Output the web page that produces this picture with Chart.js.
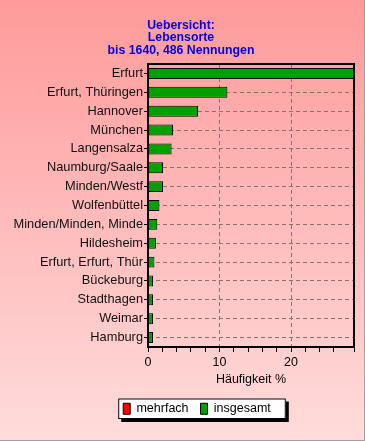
<!DOCTYPE html>
<html>
<head>
<meta charset="utf-8">
<script src="https://cdn.jsdelivr.net/npm/chart.js@4/dist/chart.umd.min.js"></script>
<style>
  html, body { margin: 0; padding: 0; background: #fff; }
  #wrap { width: 365px; height: 441px; }
</style>
</head>
<body>
<div id="wrap"><canvas id="orte" width="365" height="441"></canvas></div>
<script>
// Lebensorte bis 1640, Anteile in % von 486 Nennungen
var orte = ['Erfurt', 'Erfurt, Thüringen', 'Hannover', 'München', 'Langensalza',
    'Naumburg/Saale', 'Minden/Westf', 'Wolfenbüttel', 'Minden/Minden, Minde',
    'Hildesheim', 'Erfurt, Erfurt, Thür', 'Bückeburg', 'Stadthagen', 'Weimar', 'Hamburg'];
var mehrfach = [0, 0, 0, 0, 0, 0, 0, 0, 0, 0, 0, 0, 0, 0, 0];
var insgesamt = [28.8, 11.1, 7.0, 3.5, 3.3, 2.1, 2.1, 1.6, 1.3, 1.1, 0.9, 0.7, 0.7, 0.7, 0.7];
var titelZeilen = ['Uebersicht:', 'Lebensorte', 'bis 1640, 486 Nennungen'];
var xTitel = 'Häufigkeit %';

var FONT = '"Liberation Sans", Arial, sans-serif';
var gridGrau = '#8a7070';

var rahmenPlugin = {
    id: 'rahmen',
    afterLayout: function (chart) {
        // Legende etwas nach rechts, wie im Original
        chart.legend.left += 16;
        chart.legend.right += 16;
    },
    beforeDraw: function (chart) {
        var ctx = chart.ctx;
        var w = chart.width, h = chart.height;
        ctx.save();
        var grad = ctx.createLinearGradient(0, 0, 0, h);
        grad.addColorStop(0, '#ff9a9a');
        grad.addColorStop(1, '#ffdcdc');
        ctx.fillStyle = grad;
        ctx.fillRect(0, 0, w, h);
        ctx.fillStyle = '#a0a0a0';
        ctx.fillRect(w - 1, 0, 1, h);
        ctx.fillRect(0, h - 1, w, 1);

        // weisser Kasten mit Schatten hinter der Legende
        var boxes = chart.legend.legendHitBoxes;
        if (boxes && boxes.length) {
            var first = boxes[0], last = boxes[boxes.length - 1];
            var x1 = first.left - 5;
            var x2 = last.left + last.width + 15;
            var y1 = first.top - 4;
            var y2 = first.top + first.height + 4;
            ctx.fillStyle = '#000';
            ctx.fillRect(x1 + 3, y1 + 3, x2 - x1, y2 - y1);
            ctx.fillStyle = '#fff';
            ctx.fillRect(x1, y1, x2 - x1, y2 - y1);
            ctx.strokeStyle = '#000';
            ctx.lineWidth = 1;
            ctx.strokeRect(x1 + 0.5, y1 + 0.5, x2 - x1 - 1, y2 - y1 - 1);
        }
        ctx.restore();
    },
    afterDatasetsDraw: function (chart) {
        var a = chart.chartArea;
        var ctx = chart.ctx;
        ctx.save();
        ctx.strokeStyle = '#000';
        ctx.lineWidth = 2;
        ctx.strokeRect(a.left, a.top, a.right - a.left, a.bottom - a.top);
        ctx.restore();
    }
};

var ctx = document.getElementById('orte').getContext('2d');
var chart = new Chart(ctx, {
    type: 'bar',
    data: {
        labels: orte,
        datasets: [{
            label: 'mehrfach',
            data: mehrfach,
            backgroundColor: '#ff0000',
            borderColor: '#000',
            borderWidth: 1,
            grouped: false
        }, {
            label: 'insgesamt',
            data: insgesamt,
            backgroundColor: '#00a000',
            borderColor: '#000',
            borderWidth: 1,
            borderSkipped: false,
            grouped: false
        }]
    },
    options: {
        responsive: false,
        animation: false,
        indexAxis: 'y',
        categoryPercentage: 1,
        barPercentage: 0.58,
        layout: {
            padding: { left: 8, right: 11, top: 0, bottom: 16 }
        },
        scales: {
            x: {
                min: 0,
                max: 28.8,
                ticks: {
                    stepSize: 2,
                    padding: 3,
                    color: '#000',
                    font: { family: FONT, size: 12.5 },
                    autoSkip: false,
                    maxRotation: 0,
                    callback: function (v) { return v % 10 === 0 ? v : ''; }
                },
                grid: {
                    color: function (c) {
                        return c.tick && c.tick.value > 0 && c.tick.value % 10 === 0 ? gridGrau : 'rgba(0,0,0,0)';
                    },
                    tickColor: '#000',
                    tickLength: 5,
                    tickWidth: 1,
                    tickBorderDash: []
                },
                border: { color: '#000', width: 2, dash: [4, 3] },
                title: {
                    display: true,
                    text: xTitel,
                    color: '#000',
                    font: { family: FONT, size: 12.5, lineHeight: 1 },
                    padding: { top: 0, bottom: 5 }
                }
            },
            y: {
                afterFit: function (scale) { scale.width = 140; },
                ticks: {
                    padding: 1,
                    color: '#111',
                    font: { family: FONT, size: 12.8 },
                    autoSkip: false
                },
                grid: {
                    offset: false,
                    color: gridGrau,
                    tickColor: '#000',
                    tickLength: 4,
                    tickWidth: 1,
                    tickBorderDash: []
                },
                border: { color: '#000', width: 2, dash: [4, 3] }
            }
        },
        plugins: {
            title: {
                display: true,
                text: titelZeilen,
                color: '#0000e6',
                font: { family: FONT, size: 12.3, weight: 'bold', lineHeight: 1.03 },
                padding: { top: 19, bottom: 7 }
            },
            legend: {
                position: 'bottom',
                labels: {
                    boxWidth: 7,
                    boxHeight: 11,
                    padding: 12,
                    color: '#000',
                    font: { family: FONT, size: 12.5 }
                }
            },
            tooltip: { enabled: false }
        }
    },
    plugins: [rahmenPlugin]
});
</script>
</body>
</html>
